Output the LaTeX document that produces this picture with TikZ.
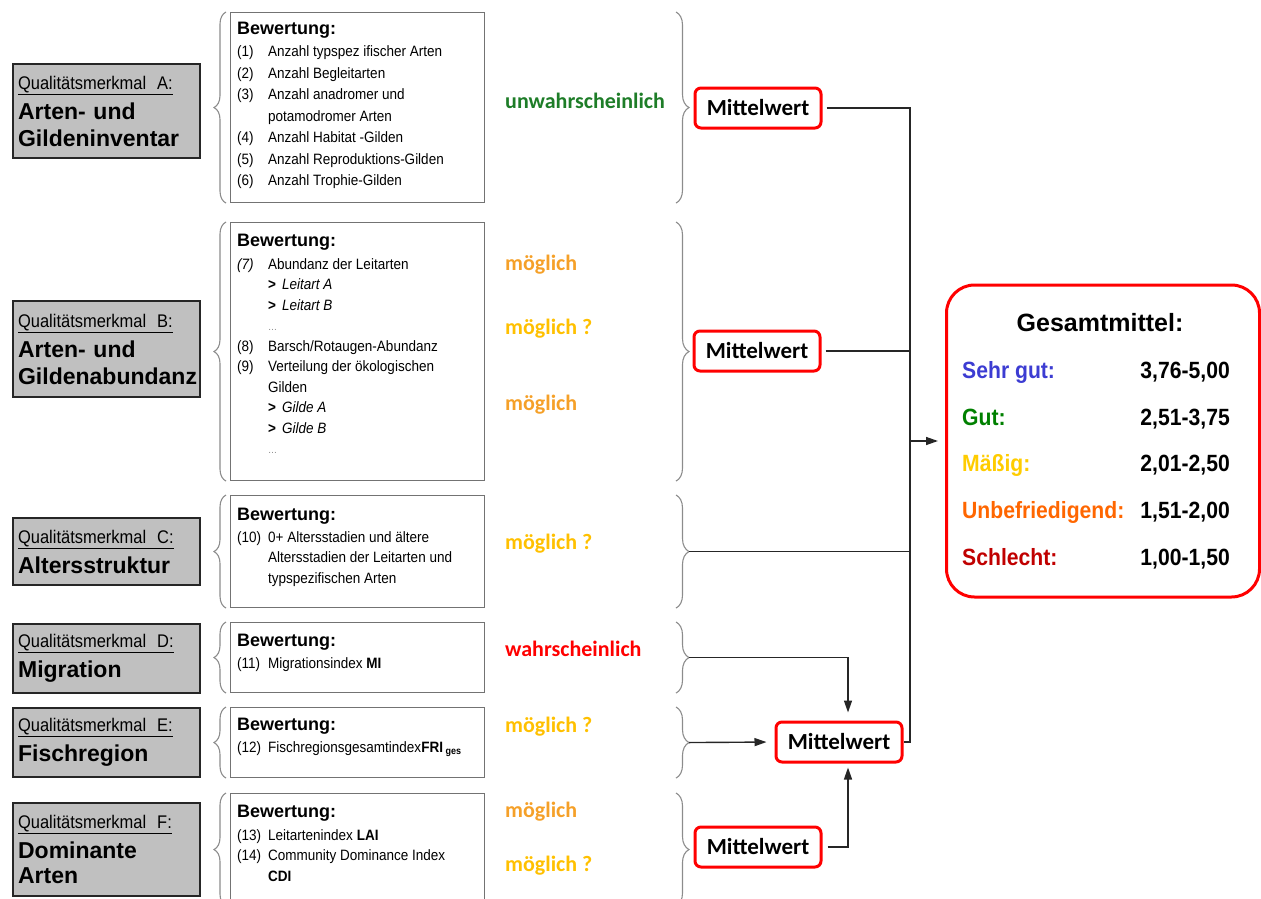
\documentclass[tikz,border=0pt]{standalone}
\usepackage{fontspec}
\setmainfont{Liberation Sans}
\newfontfamily\narrowfont[FakeStretch=0.9]{Liberation Sans}
\newfontfamily\calibri{Carlito}
\usetikzlibrary{decorations.pathreplacing,arrows.meta,calc}
\definecolor{boxgray}{RGB}{192,192,192}
\definecolor{cgreen}{RGB}{30,125,40}
\definecolor{corange}{RGB}{245,160,40}
\definecolor{cyellow}{RGB}{255,192,0}
\definecolor{cblue}{RGB}{60,60,210}
\definecolor{cgood}{RGB}{0,128,0}
\definecolor{cmid}{RGB}{255,204,0}
\definecolor{cbad}{RGB}{255,102,0}
\definecolor{cworst}{RGB}{192,0,0}
\newcommand{\nr}[1]{\makebox[31pt][l]{#1}}
\newcommand{\ind}{\makebox[31pt][l]{}}
\newcommand{\bew}{{\rmfamily\bfseries\fontsize{18}{20}\selectfont Bewertung:}}
\newcommand{\qm}[1]{{\mdseries\narrowfont\fontsize{18.3}{20}\selectfont\underline{Qualitätsmerkmal\hspace{11pt}#1:}}}
\begin{document}
\begin{tikzpicture}[x=1pt,y=-1pt,
  graybox/.style={draw=black!85, line width=2.2pt, fill=boxgray, minimum width=187pt,
    text width=177pt, inner xsep=5pt, inner ysep=0pt, align=left, anchor=north west,
    font=\bfseries\fontsize{23}{27}\selectfont},
  textbox/.style={draw=black!55, line width=1.1pt, minimum width=254pt, anchor=north west, inner sep=0pt},
  content/.style={anchor=north west, inner sep=0pt, align=left, font=\narrowfont\fontsize{15}{20.5}\selectfont},
  mw/.style={draw=red, line width=3pt, rounded corners=6pt, fill=white, minimum width=126pt,
    minimum height=40pt, inner sep=0pt, font=\calibri\bfseries\fontsize{23}{26}\selectfont},
  rate/.style={anchor=base west, inner sep=0pt, font=\calibri\bfseries\fontsize{22}{26}\selectfont},
  conn/.style={draw=black!85, line width=1.4pt},
  arr/.style={conn, -{Triangle[length=12pt,width=8pt]}},
  bracel/.style={draw=black!45, line width=1.1pt, decorate, decoration={brace, amplitude=12pt}},
  gml/.style={anchor=base west, inner sep=0pt, font=\narrowfont\bfseries\fontsize{23.5}{26}\selectfont},
  gmv/.style={anchor=base east, inner sep=0pt, font=\narrowfont\bfseries\fontsize{23.5}{26}\selectfont}
]
\useasboundingbox (0,0) rectangle (1261,899);
\clip (0,0) rectangle (1261,899);

% gray label boxes
\node[graybox, minimum height=94pt] (ga) at (12,63) {\qm{A}\\[3pt]Arten- und\\Gildeninventar};
\node[graybox, minimum height=96pt] (gb) at (12,300) {\qm{B}\\[3pt]Arten- und\\Gildenabundanz};
\node[graybox, minimum height=67pt] (gc) at (12,517) {\qm{C}\\[3pt]Altersstruktur};
\node[graybox, minimum height=69pt] (gd) at (12,623) {\qm{D}\\[3pt]Migration};
\node[graybox, minimum height=69pt] (ge) at (12,707) {\qm{E}\\[3pt]Fischregion};
\node[graybox, minimum height=93pt] (gf) at (12,802) {\qm{F}\\[3pt]Dominante\\[-2pt]Arten};

% text boxes
\node[textbox, minimum height=190pt] (ta) at (230,12) {};
\node[textbox, minimum height=258pt] (tb) at (230,222) {};
\node[textbox, minimum height=112pt] (tc) at (230,495) {};
\node[textbox, minimum height=70pt] (td) at (230,622) {};
\node[textbox, minimum height=70pt] (te) at (230,707) {};
\node[textbox, minimum height=112pt] (tf) at (230,793) {};

% contents
\node[content, font=\narrowfont\fontsize{15}{21.5}\selectfont] (ca) at (237,21.5) {\bew\\[1pt]
\nr{(1)}Anzahl typspez ifischer Arten\\
\nr{(2)}Anzahl Begleitarten\\
\nr{(3)}Anzahl anadromer und\\
\ind potamodromer Arten\\
\nr{(4)}Anzahl Habitat -Gilden\\
\nr{(5)}Anzahl Reproduktions-Gilden\\
\nr{(6)}Anzahl Trophie-Gilden};
\node[content] (cb) at (237,234) {\bew\\[2pt]
\nr{\textit{(7)}}Abundanz der Leitarten\\
\ind\textbf{>}\hspace{6pt}\textit{Leitart A}\\
\ind\textbf{>}\hspace{6pt}\textit{Leitart B}\\
\ind\textcolor{black!50}{\fontsize{10}{10}\selectfont\dots}\\
\nr{(8)}Barsch/Rotaugen-Abundanz\\
\nr{(9)}Verteilung der ökologischen\\
\ind Gilden\\
\ind\textbf{>}\hspace{6pt}\textit{Gilde A}\\
\ind\textbf{>}\hspace{6pt}\textit{Gilde B}\\
\ind\textcolor{black!50}{\fontsize{10}{10}\selectfont\dots}};
\node[content] (cc) at (237,508) {\bew\\[1pt]
\nr{(10)}0+ Altersstadien und ältere\\
\ind Altersstadien der Leitarten und\\
\ind typspezifischen Arten};
\node[content] (cd) at (237,634) {\bew\\[1pt]
\nr{(11)}Migrationsindex \textbf{MI}};
\node[content] (ce) at (237,718) {\bew\\[1pt]
\nr{(12)}Fischregionsgesamtindex\textbf{FRI}\,\raisebox{-2pt}{\bfseries\fontsize{10}{10}\selectfont ges}};
\node[content] (cf) at (237,805) {\bew\\[2pt]
\nr{(13)}Leitartenindex \textbf{LAI}\\
\nr{(14)}Community Dominance Index\\
\ind\textbf{CDI}};

% left braces
\foreach \t in {ta,tb,tc,td,te,tf} {
  \draw[bracel] ([xshift=-4pt]\t.south west) -- ([xshift=-4pt]\t.north west);
}

% right braces
\coordinate (rx) at (676,0);
\coordinate (rt) at (689,0);
\foreach \t in {ta,tb,tc,td,te,tf} {
  \draw[bracel, decoration={brace, amplitude=13pt}] (\t.north -| rx) -- (\t.south -| rx);
}

% ratings
\node[rate, text=cgreen] (r1) at (505,108) {unwahrscheinlich};
\node[rate, text=corange] (r2) at (505,270) {möglich};
\node[rate, text=cyellow] (r3) at (505,334) {möglich ?};
\node[rate, text=corange] (r4) at (505,410) {möglich};
\node[rate, text=cyellow] (r5) at (505,549) {möglich ?};
\node[rate, text=red] (r6) at (505,656) {wahrscheinlich};
\node[rate, text=cyellow] (r7) at (505,732) {möglich ?};
\node[rate, text=corange] (r8) at (505,817) {möglich};
\node[rate, text=cyellow] (r9) at (505,871) {möglich ?};

% Mittelwert boxes
\node[mw] (m1) at (758,108) {Mittelwert};
\node[mw] (m2) at (757,351) {Mittelwert};
\node[mw] (m3) at (839,742) {Mittelwert};
\node[mw] (m4) at (758,847) {Mittelwert};

% Gesamtmittel
\node[draw=red, line width=3pt, rounded corners=28pt, minimum width=313pt, minimum height=312pt] (gm) at (1103,441) {};
\node[anchor=base, inner sep=0pt, font=\bfseries\fontsize{25}{28}\selectfont] (gt) at (1100,331) {Gesamtmittel:};
\node[gml, text=cblue] (l1) at (962,378) {Sehr gut:};
\node[gml, text=cgood] (l2) at (962,425) {Gut:};
\node[gml, text=cmid] (l3) at (962,471) {Mäßig:};
\node[gml, text=cbad] (l4) at (962,518) {Unbefriedigend:};
\node[gml, text=cworst] (l5) at (962,565) {Schlecht:};
\node[gmv] (v1) at (1230,378) {3,76-5,00};
\node[gmv] (v2) at (1230,425) {2,51-3,75};
\node[gmv] (v3) at (1230,471) {2,01-2,50};
\node[gmv] (v4) at (1230,518) {1,51-2,00};
\node[gmv] (v5) at (1230,565) {1,00-1,50};

% connectors
\coordinate (vx) at (910,0);
\coordinate (ax) at (848,0);
\draw[conn, shorten <=4pt] (m1.east) -| (vx |- m3.east) -- (m3.east);
\draw[conn, shorten <=4pt] (m2.east) -- (m2.east -| vx);
\draw[conn] (tc.east -| rt) -- (tc.east -| vx);
\draw[arr, shorten >=7pt] (vx |- gm.west) -- (gm.west);
\draw[arr, shorten >=8pt] (td.east -| rt) -| (ax |- m3.north);
\draw[arr, shorten >=8pt] (te.east -| rt) -- (m3.west);
\draw[arr, shorten <=5pt, shorten >=4pt] (m4.east) -| (ax |- m3.south);
\end{tikzpicture}
\end{document}
